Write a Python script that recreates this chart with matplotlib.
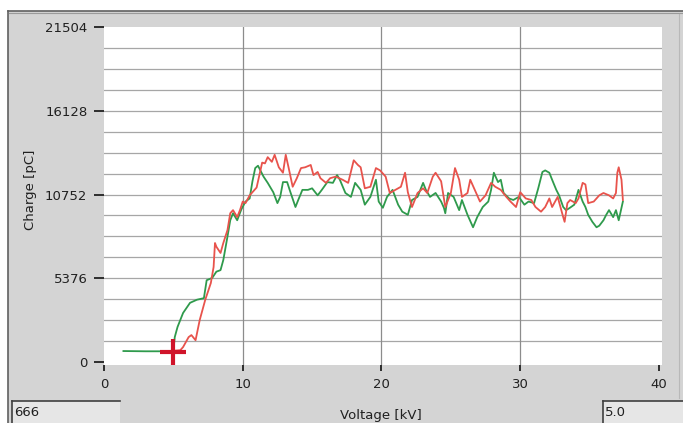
import matplotlib
matplotlib.use('Agg')
import matplotlib.pyplot as plt
from matplotlib.patches import Rectangle

# series
green_kv = [1.4, 2.0, 3.0, 4.0, 4.6, 5.0, 5.1, 5.3, 5.7, 6.2, 6.7, 7.2, 7.4, 7.8, 8.1, 8.4, 8.6, 8.9,
            9.1, 9.3, 9.6, 9.9, 10.2, 10.5, 10.7, 10.9, 11.1, 11.5, 11.8, 12.2, 12.5, 12.7, 12.9, 13.2,
            13.4, 13.8, 14.0, 14.3, 14.7, 15.0, 15.4, 15.7, 16.1, 16.5, 16.8, 17.0, 17.4, 17.8, 18.1,
            18.5, 18.8, 19.2, 19.6, 19.8, 20.1, 20.4, 20.8, 21.2, 21.5, 21.9, 22.2, 22.6, 23.0, 23.2,
            23.5, 23.9, 24.3, 24.5, 24.6, 24.8, 25.2, 25.6, 25.8, 26.2, 26.6, 26.9, 27.3, 27.7, 27.9,
            28.1, 28.4, 28.6, 28.8, 29.2, 29.5, 29.9, 30.3, 30.6, 31.0, 31.3, 31.6, 31.8, 32.1, 32.3,
            32.6, 32.8, 33.1, 33.3, 33.5, 33.9, 34.2, 34.5, 34.7, 34.9, 35.2, 35.5, 35.7, 36.0, 36.2,
            36.4, 36.7, 36.9, 37.1, 37.3, 37.4]
green_pc = [706, 700, 690, 690, 700, 720, 1600, 2250, 3150, 3800, 4000, 4100, 5250, 5400, 5800, 5900, 6550, 8050,
            9100, 9550, 9100, 9800, 10300, 10500, 11600, 12450, 12600, 11900, 11500, 10900, 10200, 10600, 11550, 11550,
            11000, 9950, 10400, 11050, 11050, 11150, 10700, 11050, 11550, 11500, 12000, 11700, 10850, 10600, 11500,
            11050, 10100, 10600, 11700, 10300, 9900, 10600, 11050, 10100, 9650, 9450, 10400, 10600, 11500, 11050,
            10600, 10850, 10300, 9900, 9550, 10850, 10600, 9750, 10400, 9450, 8650, 9300, 9950, 10300, 11050,
            12150, 11550, 11700, 10850, 10500, 10400, 10600, 10100, 10300, 10200, 11150, 12200, 12300, 12150, 11700,
            11050, 10700, 9950, 9750, 9850, 10100, 11050, 10300, 9950, 9450, 9000, 8650, 8750, 9100, 9450,
            9750, 9300, 9750, 9100, 9900, 10300]

red_kv = [4.2, 5.0, 5.5, 5.7, 6.1, 6.3, 6.6, 6.9, 7.3, 7.7, 7.9, 8.0, 8.1, 8.4, 8.6, 8.9, 9.1, 9.3, 9.6,
          9.8, 10.0, 10.2, 10.5, 11.0, 11.4, 11.6, 11.8, 12.1, 12.3, 12.6, 12.9, 13.1, 13.3, 13.6, 13.9,
          14.2, 14.5, 14.9, 15.1, 15.4, 15.6, 16.0, 16.3, 16.7, 17.2, 17.6, 18.0, 18.3, 18.5, 18.8, 19.2,
          19.6, 19.9, 20.3, 20.6, 21.0, 21.4, 21.7, 21.9, 22.2, 22.6, 23.0, 23.3, 23.7, 23.9, 24.3, 24.6,
          25.0, 25.3, 25.6, 25.8, 26.2, 26.4, 26.8, 27.1, 27.5, 27.9, 28.2, 28.6, 29.0, 29.3, 29.7, 30.0,
          30.4, 30.8, 31.1, 31.5, 31.8, 32.1, 32.3, 32.7, 33.1, 33.2, 33.4, 33.6, 34.0, 34.2, 34.5, 34.7,
          34.9, 35.3, 35.7, 36.0, 36.4, 36.7, 36.9, 37.0, 37.1, 37.3, 37.4]
red_pc = [700, 720, 760, 960, 1600, 1730, 1400, 2700, 4000, 5070, 6100, 7640, 7400, 7000, 7640, 8470, 9550, 9750, 9300,
          9750, 10300, 10200, 10700, 11200, 12800, 12750, 13150, 12850, 13300, 12500, 12150, 13300, 12500, 11250, 11800,
          12450, 12500, 12650, 12000, 12200, 11800, 11500, 11800, 11900, 11700, 11500, 12950, 12650, 12500, 11150, 11250,
          12450, 12300, 11900, 10850, 11050, 11250, 12150, 10900, 9950, 10850, 11150, 10850, 11900, 12150, 11600, 9950,
          10850, 12450, 11700, 10600, 10850, 11700, 10900, 10300, 10700, 11500, 11250, 11050, 10600, 10300, 9950, 10900,
          10500, 10400, 9950, 9650, 9950, 10500, 9950, 10600, 9300, 9000, 10200, 10400, 10200, 10500, 11500, 11400,
          10200, 10300, 10700, 10850, 10700, 10500, 10850, 12150, 12500, 11700, 10400]

cursor_kv = 5.0
cursor_pc = 666

x_ticks = [0, 10, 20, 30, 40]
y_ticks = [0, 5376, 10752, 16128, 21504]
y_grid_step = 1344

W, H = 683, 423
plt.rcParams['font.family'] = ['DejaVu Sans']
fig = plt.figure(figsize=(W / 100, H / 100), dpi=100, facecolor='white')

def px(x0, y0, x1, y1):
    return [x0 / W, 1 - y1 / H, (x1 - x0) / W, (y1 - y0) / H]

# gray panel with dark frame on top/left
bg = fig.add_axes([0, 0, 1, 1], zorder=-5)
bg.set_xlim(0, W)
bg.set_ylim(H, 0)
bg.axis('off')
bg.add_patch(Rectangle((8, 11), W - 8, H - 11, facecolor='#d4d4d4', edgecolor='none'))
bg.plot([8, W], [11, 11], color='#606060', lw=1.2)
bg.plot([8, 8], [11, H], color='#606060', lw=1.2)
bg.plot([9, W], [13, 13], color='#9a9a9a', lw=0.8)
bg.plot([679, 679], [14, 398], color='#b8b8b8', lw=0.8)
# status boxes
for (x0, x1, txt) in [(12, 120, '666'), (603, 683, '5.0')]:
    bg.add_patch(Rectangle((x0, 401), x1 - x0, H - 401, facecolor='#e6e6e6', edgecolor='none'))
    bg.plot([x0, x1], [401, 401], color='#404040', lw=1.2)
    bg.plot([x0, x0], [401, H], color='#404040', lw=1.2)
    bg.text(x0 + 2, 413, txt, fontsize=9.5, va='center', ha='left', color='#202020')

ax = fig.add_axes(px(104, 27, 662, 365))
ax.set_facecolor('white')
ax.set_xlim(0, 40.22)
ax.set_ylim(-190, 21504)

for v in range(y_grid_step, 21504, y_grid_step):
    ax.axhline(v, color='#a6a6a6', lw=0.9, zorder=1)
for v in x_ticks[1:-1]:
    ax.axvline(v, color='#8c8c8c', lw=0.9, zorder=1)

ax.plot(green_kv, green_pc, color='#2f9a4c', lw=1.3, zorder=3)
ax.plot(red_kv, red_pc, color='#e8534c', lw=1.3, zorder=4)
ax.plot([cursor_kv], [cursor_pc], marker='+', markersize=19, mew=3.0, color='#d0142a', zorder=5)

for s in ax.spines.values():
    s.set_visible(False)
ax.set_xticks(x_ticks)
ax.set_yticks(y_ticks)
ax.set_yticklabels([str(v) for v in y_ticks])
ax.tick_params(axis='both', labelsize=9.5, colors='#202020', width=1.3, direction='out')
ax.tick_params(axis='y', length=7, pad=5)
ax.tick_params(axis='x', length=4, pad=5)
ax.set_xlabel('Voltage [kV]', fontsize=9.5, color='#202020')
ax.set_ylabel('Charge [pC]', fontsize=9.5, color='#202020')
ax.xaxis.set_label_coords((381 - 104) / 558, -(409 - 365) / 338)
ax.yaxis.set_label_coords(-(104 - 37) / 558, (365 - 190) / 338)

fig.savefig('out.png', dpi=100, facecolor=fig.get_facecolor())
